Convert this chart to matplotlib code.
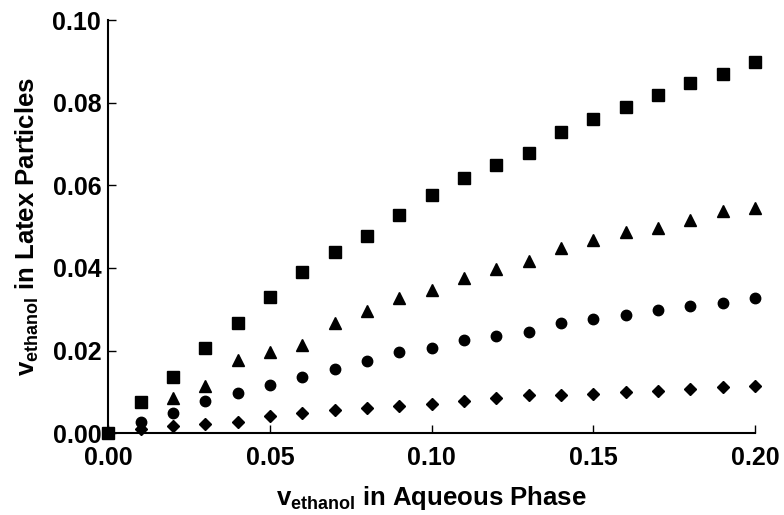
import numpy as np
import matplotlib.pyplot as plt

# data
x = [0.00, 0.01, 0.02, 0.03, 0.04, 0.05, 0.06, 0.07, 0.08, 0.09, 0.10,
     0.11, 0.12, 0.13, 0.14, 0.15, 0.16, 0.17, 0.18, 0.19, 0.20]
squares = [0.0, 0.0076, 0.0135, 0.0207, 0.0267, 0.0329, 0.0389, 0.0438, 0.0478, 0.0528, 0.0576,
           0.0617, 0.0649, 0.0677, 0.0728, 0.0760, 0.0789, 0.0818, 0.0848, 0.0869, 0.0899]
x_tri = x[2:]
triangles = [0.0084, 0.0115, 0.0177, 0.0197, 0.0213, 0.0266, 0.0295, 0.0328, 0.0346,
             0.0376, 0.0397, 0.0417, 0.0447, 0.0467, 0.0487, 0.0497, 0.0517, 0.0537, 0.0546]
x_rest = x[1:]
circles = [0.0028, 0.0048, 0.0077, 0.0096, 0.0116, 0.0135, 0.0155, 0.0174, 0.0196, 0.0206,
           0.0225, 0.0236, 0.0245, 0.0267, 0.0276, 0.0287, 0.0298, 0.0308, 0.0316, 0.0328]
diamonds = [0.0010, 0.0017, 0.0022, 0.0027, 0.0041, 0.0048, 0.0057, 0.0061, 0.0066, 0.0071,
            0.0078, 0.0084, 0.0092, 0.0092, 0.0094, 0.0100, 0.0102, 0.0108, 0.0111, 0.0114]

xticks = [0.00, 0.05, 0.10, 0.15, 0.20]
yticks = [0.00, 0.02, 0.04, 0.06, 0.08, 0.10]

plt.rcParams['font.family'] = 'Liberation Sans'
plt.rcParams['font.weight'] = 'bold'
plt.rcParams['mathtext.fontset'] = 'custom'
plt.rcParams['mathtext.rm'] = 'Liberation Sans:bold'
plt.rcParams['mathtext.it'] = 'Liberation Sans:bold'
plt.rcParams['mathtext.bf'] = 'Liberation Sans:bold'

fig = plt.figure(figsize=(7.84, 5.15), dpi=100)
ax = fig.add_axes([0.138, 0.159, 0.825, 0.802])

ax.plot(x, squares, 's', color='black', markersize=8, clip_on=False)
ax.plot(x_tri, triangles, '^', color='black', markersize=8, clip_on=False)
ax.plot(x_rest, circles, 'o', color='black', markersize=7.5, clip_on=False)
ax.plot(x_rest, diamonds, 'D', color='black', markersize=6.3, clip_on=False)

ax.set_xlim(0, 0.20)
ax.set_ylim(0, 0.10)
ax.set_xticks(xticks)
ax.set_yticks(yticks)
ax.set_xticklabels(['%.2f' % t for t in xticks])
ax.set_yticklabels(['%.2f' % t for t in yticks])

# only left and bottom axes, ticks pointing in
ax.spines['top'].set_visible(False)
ax.spines['right'].set_visible(False)
ax.spines['left'].set_linewidth(1.5)
ax.spines['bottom'].set_linewidth(1.5)
ax.tick_params(direction='in', length=6, width=1, labelsize=18)
ax.tick_params(axis='x', pad=9)
ax.tick_params(axis='y', pad=5)

ax.set_xlabel(r'$v_{ethanol}$ in Aqueous Phase', fontsize=18.5, fontweight='bold', labelpad=10)
ax.set_ylabel(r'$v_{ethanol}$ in Latex Particles', fontsize=18.5, fontweight='bold', labelpad=8)

plt.savefig('out.png', dpi=100)
